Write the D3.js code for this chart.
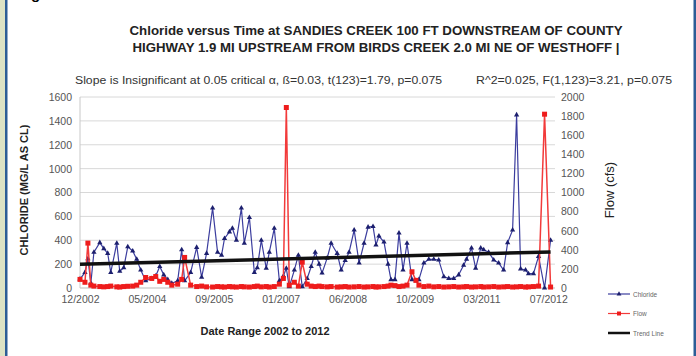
<!DOCTYPE html>
<html>
<head>
<meta charset="utf-8">
<script src="https://cdn.jsdelivr.net/npm/d3@7"></script>
<style>
body { margin: 0; background: #fff; }
svg { display: block; font-family: 'Liberation Sans', Arial, sans-serif; }
</style>
</head>
<body>
<svg id="chart" width="696" height="356"></svg>
<script>
// Sample dates (same for both series)
var sampleDates = [
  '2002-12-20', '2003-01-26', '2003-02-17', '2003-03-11', '2003-04-03', '2003-05-17',
  '2003-06-16', '2003-07-15', '2003-08-07', '2003-09-21', '2003-10-13', '2003-11-12',
  '2003-12-12', '2004-01-18', '2004-02-17', '2004-03-18', '2004-04-24', '2004-06-08',
  '2004-07-08', '2004-08-07', '2004-09-06', '2004-10-06', '2004-11-05', '2004-12-19',
  '2005-01-18', '2005-02-09', '2005-03-26', '2005-05-10', '2005-06-16', '2005-07-23',
  '2005-09-06', '2005-10-13', '2005-11-12', '2005-12-04', '2006-01-10', '2006-02-01',
  '2006-03-03', '2006-04-09', '2006-05-01', '2006-06-08', '2006-07-15', '2006-08-06',
  '2006-09-05', '2006-10-12', '2006-11-04', '2006-12-11', '2007-01-18', '2007-02-17',
  '2007-03-11', '2007-04-02', '2007-05-10', '2007-06-09', '2007-07-08', '2007-08-14',
  '2007-09-13', '2007-10-13', '2007-11-11', '2007-12-03', '2008-01-10', '2008-02-09',
  '2008-03-25', '2008-04-24', '2008-05-24', '2008-06-22', '2008-07-30', '2008-09-05',
  '2008-10-12', '2008-11-11', '2008-12-18', '2009-01-09', '2009-01-31', '2009-03-10',
  '2009-04-09', '2009-05-01', '2009-05-31', '2009-06-30', '2009-07-30', '2009-08-29',
  '2009-10-05', '2009-11-04', '2009-11-26', '2010-01-02', '2010-02-08', '2010-03-17',
  '2010-04-23', '2010-05-31', '2010-07-07', '2010-08-13', '2010-09-19', '2010-10-26',
  '2010-11-17', '2010-12-24', '2011-01-24', '2011-03-03', '2011-03-25', '2011-05-01',
  '2011-06-08', '2011-07-15', '2011-08-21', '2011-09-20', '2011-10-27', '2011-11-26',
  '2011-12-26', '2012-02-01', '2012-02-23', '2012-03-31', '2012-05-08', '2012-06-22',
  '2012-08-06'
]

// Chloride (mg/L as Cl), left axis
var chloride = [
  75, 130, 245, 40, 300, 380,
  330, 290, 130, 375, 140, 170,
  345, 310, 240, 150, 60, 80,
  100, 180, 110, 70, 40, 60,
  320, 60, 130, 340, 90, 290,
  670, 300, 275, 415, 470, 500,
  400, 670, 375, 590, 130, 170,
  400, 165, 300, 500, 60, 100,
  165, 10, 150, 275, 10, 80,
  180, 300, 200, 125, 250, 375,
  290, 150, 230, 300, 485, 210,
  375, 510, 515, 360, 435, 385,
  200, 70, 70, 460, 150, 375,
  70, 60, 70, 210, 240, 240,
  235, 95, 80, 80, 110, 190,
  240, 335, 165, 335, 320, 300,
  235, 210, 150, 380, 485, 1450,
  160, 150, 120, 120, 265, 0,
  400
]

// Flow (cfs), right axis
var flow = [
  90, 60, 470, 30, 20, 15,
  12, 15, 20, 12, 10, 15,
  18, 20, 30, 60, 110, 100,
  120, 70, 90, 60, 30, 40,
  90, 320, 30, 15, 20, 12,
  10, 15, 12, 10, 15, 12,
  10, 15, 12, 10, 15, 20,
  12, 15, 10, 15, 40, 100,
  1890, 30, 60, 20, 270, 40,
  20, 15, 20, 15, 12, 15,
  10, 12, 15, 10, 12, 15,
  10, 12, 15, 10, 12, 15,
  20, 30, 25, 15, 20, 30,
  170, 80, 30, 15, 20, 12,
  15, 10, 12, 15, 10, 12,
  15, 10, 12, 15, 10, 12,
  15, 10, 12, 15, 10, 12,
  15, 10, 12, 15, 20, 1820,
  10
]

// Linear trend line end points
var trendDates = ['2002-12-20', '2012-08-06']
var trendValues = [198, 302]

// Axis ticks
var xTickDates = ['2002-12-20', '2004-05-03', '2005-09-15', '2007-01-28',
  '2008-06-11', '2009-10-24', '2011-03-08', '2012-07-20']
var xDomain = ['2002-12-20', '2012-09-08']
var leftTicks = [0, 200, 400, 600, 800, 1000, 1200, 1400, 1600]
var rightTicks = [0, 200, 400, 600, 800, 1000, 1200, 1400, 1600, 1800, 2000]

var titleLines = [
  'Chloride versus Time at SANDIES CREEK 100 FT DOWNSTREAM OF COUNTY',
  'HIGHWAY 1.9 MI UPSTREAM FROM BIRDS CREEK 2.0 MI NE OF WESTHOFF |'
]
var slopeText = 'Slope is Insignificant at 0.05 critical \u03b1, \u00df=0.03, t(123)=1.79, p=0.075'
var statsText = 'R^2=0.025, F(1,123)=3.21, p=0.075'
var legendNames = ['Chloride', 'Flow', 'Trend Line']

var parse = d3.timeParse('%Y-%m-%d')
var svg = d3.select('#chart')

// Frame
svg.append('rect').attr('width', 696).attr('height', 356).attr('fill', '#fff')
svg.append('rect').attr('x', 0).attr('width', 5).attr('height', 356).attr('fill', '#dde3c4')
svg.append('rect').attr('x', 5).attr('width', 2.5).attr('height', 356).attr('fill', '#2d5d96')
svg.append('rect').attr('x', 693.5).attr('width', 2.5).attr('height', 356).attr('fill', '#2d5d96')
svg.append('text').attr('x', 31).attr('y', -1)
  .attr('font-size', 15).attr('font-weight', 'bold').text('g')

// Plot box
var pLeft = 80, pRight = 555, pTop = 97, pBottom = 288

var x = d3.scaleTime().domain(xDomain.map(parse)).range([pLeft, pRight])
var yL = d3.scaleLinear().domain([0, 1600]).range([pBottom, pTop])
var yR = d3.scaleLinear().domain([0, 2000]).range([pBottom, pTop])

// Gridlines
svg.append('g').selectAll('line').data(leftTicks).join('line')
  .attr('x1', pLeft).attr('x2', pRight)
  .attr('y1', d => yL(d)).attr('y2', d => yL(d))
  .attr('stroke', d => d == 0 ? '#bbb' : '#d8d8d8')
svg.append('line').attr('x1', pLeft).attr('x2', pLeft)
  .attr('y1', pTop).attr('y2', pBottom).attr('stroke', '#c8c8c8')

// Left axis
var la = svg.append('g').attr('transform', 'translate(' + pLeft + ',0)')
  .call(d3.axisLeft(yL).tickValues(leftTicks).tickFormat(d3.format('d'))
    .tickSize(0).tickPadding(8))
la.select('.domain').remove()
la.selectAll('text').attr('font-size', 10.5).attr('fill', '#555').attr('font-family', null)

// Right axis
var ra = svg.append('g').attr('transform', 'translate(' + pRight + ',0)')
  .call(d3.axisRight(yR).tickValues(rightTicks).tickFormat(d3.format('d'))
    .tickSize(0).tickPadding(6))
ra.select('.domain').remove()
ra.selectAll('text').attr('font-size', 10.5).attr('fill', '#555').attr('font-family', null)

// Bottom axis
var ba = svg.append('g').attr('transform', 'translate(0,' + pBottom + ')')
  .call(d3.axisBottom(x).tickValues(xTickDates.map(parse))
    .tickFormat(d3.timeFormat('%m/%Y')).tickSize(0).tickPadding(8))
ba.select('.domain').remove()
ba.selectAll('text').attr('font-size', 10.5).attr('fill', '#555').attr('font-family', null)

// Series data
var cData = sampleDates.map((d, i) => ({date: parse(d), value: chloride[i]}))
var fData = sampleDates.map((d, i) => ({date: parse(d), value: flow[i]}))

var cLine = d3.line().x(d => x(d.date)).y(d => yL(d.value))
var fLine = d3.line().x(d => x(d.date)).y(d => yR(d.value))

// Chloride
svg.append('path').datum(cData)
  .attr('d', cLine).attr('fill', 'none')
  .attr('stroke', '#3b3d9e').attr('stroke-width', 1.2)
svg.append('g').selectAll('path').data(cData).join('path')
  .attr('transform', d => 'translate(' + x(d.date) + ',' + yL(d.value) + ')')
  .attr('d', d3.symbol(d3.symbolTriangle, 12))
  .attr('fill', '#1c1f6e')

// Flow
svg.append('path').datum(fData)
  .attr('d', fLine).attr('fill', 'none')
  .attr('stroke', '#f23a3a').attr('stroke-width', 1.5)
svg.append('g').selectAll('rect').data(fData).join('rect')
  .attr('x', d => x(d.date) - 2.5).attr('y', d => yR(d.value) - 2.5)
  .attr('width', 5).attr('height', 5)
  .attr('fill', '#ee1c1c')

// Trend line
svg.append('line')
  .attr('x1', x(parse(trendDates[0]))).attr('y1', yL(trendValues[0]))
  .attr('x2', x(parse(trendDates[1]))).attr('y2', yL(trendValues[1]))
  .attr('stroke', '#111').attr('stroke-width', 3.5)

// Titles
svg.append('g').selectAll('text').data(titleLines).join('text')
  .attr('x', 376).attr('y', (d, i) => 35 + i * 17)
  .attr('text-anchor', 'middle').attr('font-size', 12.5).attr('font-weight', 'bold')
  .attr('fill', '#222')
  .attr('textLength', (d, i) => i == 0 ? 493 : 487).attr('lengthAdjust', 'spacingAndGlyphs')
  .text(d => d)

svg.append('text').attr('x', 75).attr('y', 84)
  .attr('font-size', 10).attr('fill', '#333')
  .attr('textLength', 367).attr('lengthAdjust', 'spacingAndGlyphs')
  .text(slopeText)
svg.append('text').attr('x', 672).attr('y', 84)
  .attr('font-size', 10).attr('fill', '#333').attr('text-anchor', 'end')
  .attr('textLength', 196).attr('lengthAdjust', 'spacingAndGlyphs')
  .text(statsText)

// Axis titles
svg.append('text')
  .attr('transform', 'translate(28,190) rotate(-90)')
  .attr('text-anchor', 'middle').attr('font-size', 11).attr('font-weight', 'bold')
  .attr('fill', '#222').text('CHLORIDE (MG/L AS CL)')
svg.append('text')
  .attr('transform', 'translate(614,190) rotate(-90)')
  .attr('text-anchor', 'middle').attr('font-size', 13)
  .attr('fill', '#222').text('Flow (cfs)')
svg.append('text').attr('x', 265).attr('y', 335)
  .attr('text-anchor', 'middle').attr('font-size', 11).attr('font-weight', 'bold')
  .attr('fill', '#222').text('Date Range 2002 to 2012')

// Legend
var lg = svg.append('g').attr('transform', 'translate(608,294)')
var rows = lg.selectAll('g').data(legendNames).join('g')
  .attr('transform', (d, i) => 'translate(0,' + i * 19.5 + ')')
rows.append('line').attr('x1', 0).attr('x2', 22)
  .attr('stroke', (d, i) => ['#3b3d9e', '#f23a3a', '#111'][i])
  .attr('stroke-width', (d, i) => i == 2 ? 2.5 : 1.2)
rows.filter((d, i) => i == 0).append('path')
  .attr('transform', 'translate(11,0)')
  .attr('d', d3.symbol(d3.symbolTriangle, 10)).attr('fill', '#1c1f6e')
rows.filter((d, i) => i == 1).append('rect')
  .attr('x', 9).attr('y', -2).attr('width', 4).attr('height', 4).attr('fill', '#ee1c1c')
rows.append('text').attr('x', 25).attr('y', 2.5)
  .attr('font-size', 6.5).attr('fill', '#666').text(d => d)
</script>
</body>
</html>
